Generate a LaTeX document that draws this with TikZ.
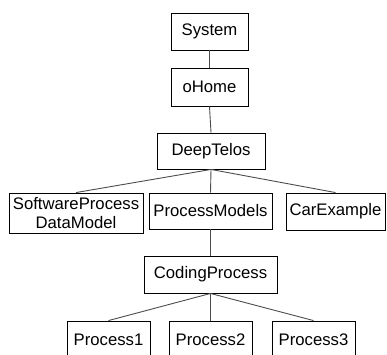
\documentclass[tikz,border=0pt]{standalone}
\usepackage{fontspec}
\setmainfont{Liberation Sans}
\begin{document}
\begin{tikzpicture}[x=1pt,y=-1pt,
  box/.style={draw=black, line width=0.9pt, fill=white, inner sep=0pt, align=center,
    font=\fontsize{16.7}{19}\selectfont},
  link/.style={draw=black!70, line width=0.9pt}]
\useasboundingbox (0,0) rectangle (387,354);
\clip (0,0) rectangle (387,354);
% levels of the hierarchy
\node[box, minimum width=77pt, minimum height=37pt] (sys) at (209.5,31.5) {System};
\node[box, minimum width=77pt, minimum height=38pt] (home) at (209.5,87) {oHome};
\node[box, minimum width=108pt, minimum height=36pt] (dt) at (211,151) {DeepTelos};
\node[box, minimum width=134pt, minimum height=40pt] (spdm) at (76,213) {SoftwareProcess\\DataModel};
\node[box, minimum width=123pt, minimum height=36pt] (pm) at (210.5,211) {ProcessModels};
\node[box, minimum width=99pt, minimum height=37pt] (car) at (335.5,211.5) {CarExample};
\node[box, minimum width=133pt, minimum height=37pt] (cp) at (210.5,274.5) {CodingProcess};
\node[box, minimum width=83pt, minimum height=37pt] (p1) at (108.5,339.5) {Process1};
\node[box, minimum width=83pt, minimum height=37pt] (p2) at (210.5,339.5) {Process2};
\node[box, minimum width=83pt, minimum height=37pt] (p3) at (313.5,339.5) {Process3};
% connectors
\draw[link] (sys.south) -- (home.north);
\draw[link] (home.south) -- (dt.north);
\draw[link] (dt.south) -- (spdm.north);
\draw[link] (dt.south) -- (pm.north);
\draw[link] (dt.south) -- (car.north);
\draw[link] (pm.south) -- (cp.north);
\draw[link] (cp.south) -- (p1.north);
\draw[link] (cp.south) -- (p2.north);
\draw[link] (cp.south) -- (p3.north);
\end{tikzpicture}
\end{document}
